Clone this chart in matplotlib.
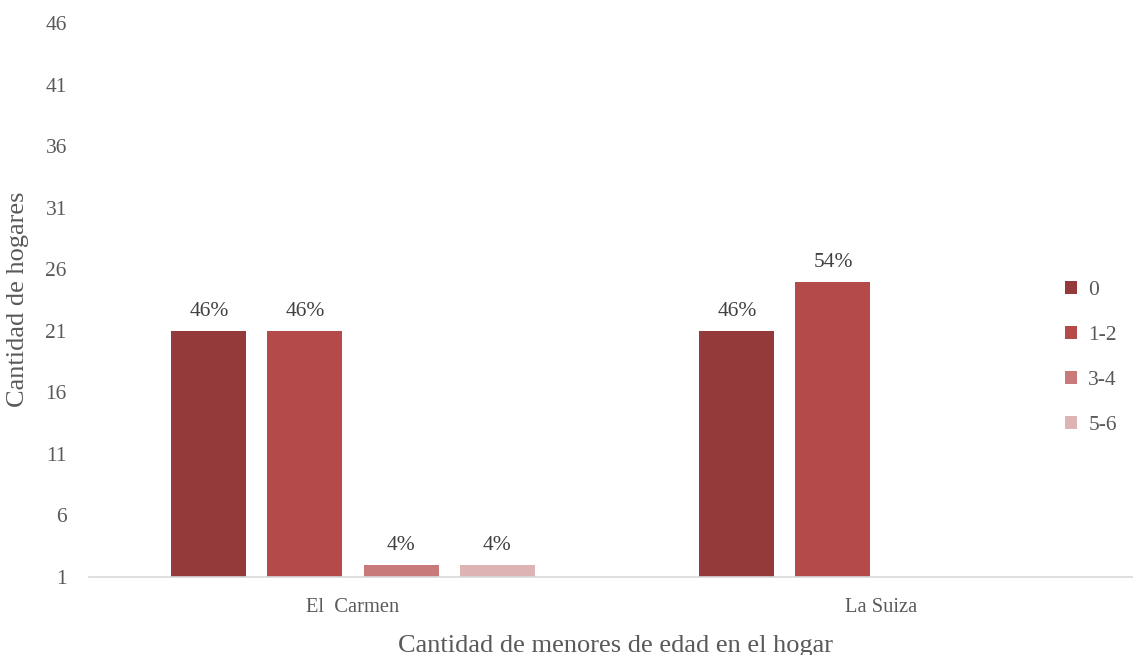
import matplotlib

matplotlib.use("Agg")
import matplotlib.pyplot as plt
from matplotlib.patches import Patch

# Datos del gráfico
categorias = ["El  Carmen", "La Suiza"]
grupos = ["0", "1-2", "3-4", "5-6"]
hogares_0 = [21, 21]
hogares_1_2 = [21, 25]
hogares_3_4 = [2, 0]
hogares_5_6 = [2, 0]
yticks = [1, 6, 11, 16, 21, 26, 31, 36, 41, 46]

series = [hogares_0, hogares_1_2, hogares_3_4, hogares_5_6]
colores = ["#943a3a", "#b54a4a", "#c87a7a", "#ddb3b3"]
gris = "#595959"
fuente = "Liberation Serif"

totales = [sum(s[i] for s in series) for i in range(len(categorias))]

fig = plt.figure(figsize=(11.33, 6.55), dpi=100)
ax = fig.add_axes([89 / 1133, 78 / 655, (1133 - 89) / 1133, (577 - 23) / 655])

ancho = 0.142
paso = 0.182
for j, (vals, color) in enumerate(zip(series, colores)):
    offset = (j - 1.5) * paso
    for i, v in enumerate(vals):
        if v == 0:
            continue
        ax.bar(i + offset, v, width=ancho, color=color, zorder=2)
        pct = round(100 * v / totales[i])
        ax.annotate(f"{pct}%", (i + offset, v), xytext=(0, 7),
                    textcoords="offset points", ha="center", va="bottom",
                    fontsize=15.5, color="#404040", family=fuente)

ax.set_xlim(-0.5, (1133 - 353) / 528)
ax.set_ylim(1, 46)
ax.set_yticks(yticks)
ax.set_yticklabels([str(t) for t in yticks], family=fuente, fontsize=15.5, color=gris)
ax.set_xticks(range(len(categorias)))
ax.set_xticklabels(categorias, family=fuente, fontsize=14.8, color=gris)
ax.tick_params(axis="both", length=0)
ax.tick_params(axis="y", pad=16)
ax.tick_params(axis="x", pad=15)

for s in ["top", "right", "left"]:
    ax.spines[s].set_visible(False)
ax.spines["bottom"].set_color("#d9d9d9")
ax.spines["bottom"].set_linewidth(1.2)

ax.set_xlabel("Cantidad de menores de edad en el hogar", family=fuente,
              fontsize=19, color=gris)
ax.set_ylabel("Cantidad de hogares", family=fuente, fontsize=19, color=gris)
ax.yaxis.set_label_coords(-0.0575, 0.502)
ax.xaxis.set_label_coords((616 - 89) / 1044, -0.105)

handles = [Patch(facecolor=c, label=g) for g, c in zip(grupos, colores)]
leg = fig.legend(handles=handles, loc="center left", bbox_to_anchor=(1046 / 1133, 1 - 358 / 655),
                 frameon=False, handlelength=0.56, handleheight=0.56,
                 labelspacing=1.2, handletextpad=0.5,
                 prop={"family": fuente, "size": 15.5})
for t in leg.get_texts():
    t.set_color(gris)

fig.savefig("out.png", dpi=100)
